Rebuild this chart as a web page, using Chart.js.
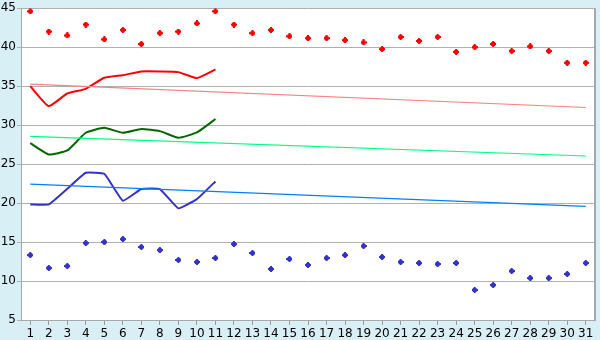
<!DOCTYPE html>
<html><head><meta charset="utf-8">
<script src="https://cdn.jsdelivr.net/npm/chart.js@4"></script>
<style>html,body{margin:0;padding:0;background:#d9eff6}#wrap{width:600px;height:340px}</style>
</head><body><div id="wrap"><canvas id="c" width="600" height="340"></canvas></div>
<script>
const days = Array.from({length:31},(_,i)=>String(i+1));
const yTicks = [5,10,15,20,25,30,35,40,45];
const maxPoints = [44.6,42.0,41.5,42.9,41.0,42.2,40.4,41.8,42.0,43.05,44.6,42.9,41.8,42.2,41.4,41.15,41.15,40.9,40.6,39.75,41.3,40.8,41.3,39.4,40.0,40.4,39.5,40.1,39.5,38.0,38.0];
const minPoints = [13.33,11.67,11.92,14.87,15.0,15.38,14.36,13.97,12.69,12.44,12.95,14.74,13.59,11.54,12.82,12.05,12.95,13.33,14.49,13.08,12.44,12.31,12.18,12.31,8.85,9.49,11.28,10.38,10.38,10.9,12.31];
const redLine = [35.0,32.44,34.06,34.66,36.07,36.41,36.88,36.88,36.8,36.03,37.14];
const greenLine = [27.69,26.24,26.75,29.02,29.66,29.02,29.49,29.23,28.38,29.06,30.78];
const blueLine = [19.83,19.83,21.84,23.89,23.76,20.3,21.8,21.8,19.32,20.5,22.78];
const redTrend = [35.26,32.26];
const greenTrend = [28.55,26.04];
const blueTrend = [22.43,19.57];

function pad(arr){const a=arr.slice();while(a.length<31)a.push(null);return a;}
function trend(t){const a=new Array(31).fill(null);a[0]=t[0];a[30]=t[1];return a;}
function plusImg(color,big){
  const c=document.createElement('canvas');
  const g=c.getContext('2d');
  if(big){c.width=6;c.height=6;g.fillStyle=color;g.fillRect(2,0,2,6);g.fillRect(0,2,6,2);g.fillRect(1,1,4,4);}
  else{c.width=5;c.height=5;g.fillStyle=color;g.fillRect(2,0,1,5);g.fillRect(0,2,5,1);g.fillRect(1,1,3,3);}
  return c;
}
const bgPlugin={id:'bg',beforeDraw(ch){const {ctx,chartArea:a}=ch;ctx.save();ctx.fillStyle='#d9eff6';ctx.fillRect(0,0,ch.width,ch.height);ctx.fillStyle='#ffffff';ctx.fillRect(a.left,a.top,a.right-a.left,a.bottom-a.top);ctx.restore();},
  afterDraw(ch){const {ctx,chartArea:a}=ch;ctx.save();ctx.strokeStyle='#a8a8a8';ctx.lineWidth=2;ctx.beginPath();ctx.moveTo(a.right,a.top);ctx.lineTo(a.right,a.bottom);ctx.stroke();ctx.restore();}};
const lineDs=(d,col,w,t)=>({data:d,borderColor:col,borderWidth:w,pointRadius:0,tension:t,fill:false,spanGaps:true});
new Chart(document.getElementById('c'),{
  type:'line',
  data:{labels:days,datasets:[
    lineDs(trend(redTrend),'#ff8080',1.2,0),
    lineDs(trend(greenTrend),'#00ff80',1.2,0),
    lineDs(trend(blueTrend),'#0080ff',1.2,0),
    lineDs(pad(redLine),'#ff0000',2,0.15),
    lineDs(pad(greenLine),'#006600',2,0.15),
    lineDs(pad(blueLine),'#3333cc',2,0.1),
    {data:maxPoints,showLine:false,pointStyle:plusImg('#ff0000',true),pointRadius:3,borderWidth:0},
    {data:minPoints,showLine:false,pointStyle:plusImg('#3333cc',true),pointRadius:3,borderWidth:0}
  ]},
  plugins:[bgPlugin],
  options:{responsive:false,animation:false,events:[],
    layout:{padding:{top:5,right:5,left:0,bottom:0}},
    plugins:{legend:{display:false},tooltip:{enabled:false}},
    scales:{
      x:{offset:true,grid:{drawOnChartArea:false,drawTicks:true,tickLength:5,color:'#999999',offset:false},
         border:{color:'#a8a8a8',width:1},
         ticks:{autoSkip:false,maxRotation:0,color:'#000',padding:2,font:{family:'DejaVu Sans',size:12}},
         afterFit(s){s.height=20;}},
      y:{min:5,max:45,afterBuildTicks(s){s.ticks=yTicks.map(v=>({value:v}));},
         grid:{color:'#b0b0b0',tickLength:4,drawTicks:true},
         border:{color:'#a8a8a8',width:1},
         ticks:{color:'#000',padding:1,font:{family:'DejaVu Sans',size:12}},
         afterFit(s){s.width=21;}}
    }}
});
</script></body></html>
